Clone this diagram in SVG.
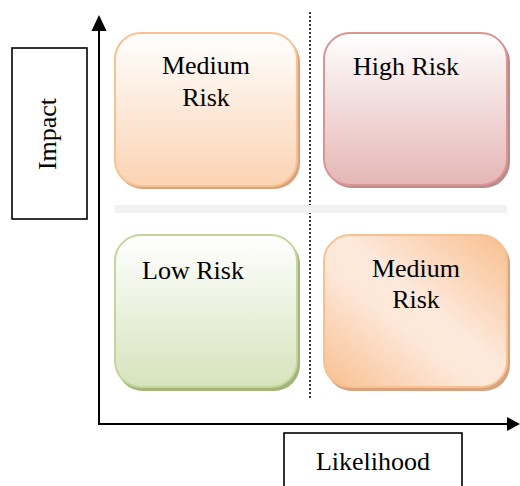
<svg xmlns="http://www.w3.org/2000/svg" width="520" height="486" viewBox="0 0 520 486">
<style>
text{font-family:"Liberation Serif","Times New Roman",serif;font-size:26px;fill:#000}
.ax{stroke:#000;stroke-width:2;fill:none}
.lbl{fill:#fff;stroke:#000;stroke-width:1.6}
.box{stroke-width:2}
</style>
<defs>
<linearGradient id="gOr" x1="0" y1="0" x2="0" y2="1"><stop offset="0" stop-color="#ffffff"/><stop offset="1" stop-color="#fbd3b3"/></linearGradient>
<linearGradient id="gRd" x1="0" y1="0" x2="0" y2="1"><stop offset="0" stop-color="#ffffff"/><stop offset="1" stop-color="#e5b6b5"/></linearGradient>
<linearGradient id="gGr" x1="0" y1="0" x2="0" y2="1"><stop offset="0" stop-color="#ffffff"/><stop offset="1" stop-color="#d7e3bc"/></linearGradient>
<linearGradient id="gDg" x1="1" y1="0" x2="0" y2="1"><stop offset="0" stop-color="#f9bf8f"/><stop offset="0.45" stop-color="#fde9dc"/><stop offset="0.6" stop-color="#fde7d8"/><stop offset="1" stop-color="#f9bf8f"/></linearGradient>
</defs>
<g id="connectors">
<line x1="310" y1="12" x2="310" y2="400" stroke="#000" stroke-width="1.6" stroke-dasharray="2 2"/>
<rect x="115" y="205" width="392" height="8" fill="#f2f2f2"/>
<line class="ax" x1="99" y1="28" x2="99" y2="425"/>
<line class="ax" x1="98" y1="424" x2="510" y2="424"/>
<polygon points="99,15 91.5,31 106.5,31" fill="#000"/>
<polygon points="520,424 507,417 507,431" fill="#000"/>
</g>
<g id="impact">
<rect class="lbl" x="12" y="48" width="75" height="171"/>
<text x="56" y="134" text-anchor="middle" transform="rotate(-90 56 134)">Impact</text>
</g>
<g id="likelihood">
<rect class="lbl" x="284" y="433" width="178" height="60"/>
<text x="373" y="470" text-anchor="middle">Likelihood</text>
</g>
<g id="medium-top">
<rect x="117" y="36" width="183" height="153" rx="26" fill="#d8a27e"/>
<rect class="box" x="115" y="33" width="182" height="153" rx="26" fill="url(#gOr)" stroke="#f9c090"/>
<text x="206" y="74" text-anchor="middle">Medium</text>
<text x="206" y="106" text-anchor="middle">Risk</text>
</g>
<g id="high">
<rect x="326" y="36" width="184" height="152" rx="26" fill="#b98c8b"/>
<rect class="box" x="324" y="33" width="183" height="152" rx="26" fill="url(#gRd)" stroke="#d99594"/>
<text x="406" y="75" text-anchor="middle">High Risk</text>
</g>
<g id="low">
<rect x="117" y="238" width="183" height="153" rx="26" fill="#a2b477"/>
<rect class="box" x="115" y="235" width="182" height="152" rx="26" fill="url(#gGr)" stroke="#c3d69b"/>
<text x="193" y="279" text-anchor="middle">Low Risk</text>
</g>
<g id="medium-bottom">
<rect x="326" y="238" width="184" height="153" rx="26" fill="#d8a27e"/>
<rect class="box" x="324" y="235" width="183" height="152" rx="26" fill="url(#gDg)" stroke="#f9c090"/>
<text x="416" y="277" text-anchor="middle">Medium</text>
<text x="416" y="308" text-anchor="middle">Risk</text>
</g>
</svg>
